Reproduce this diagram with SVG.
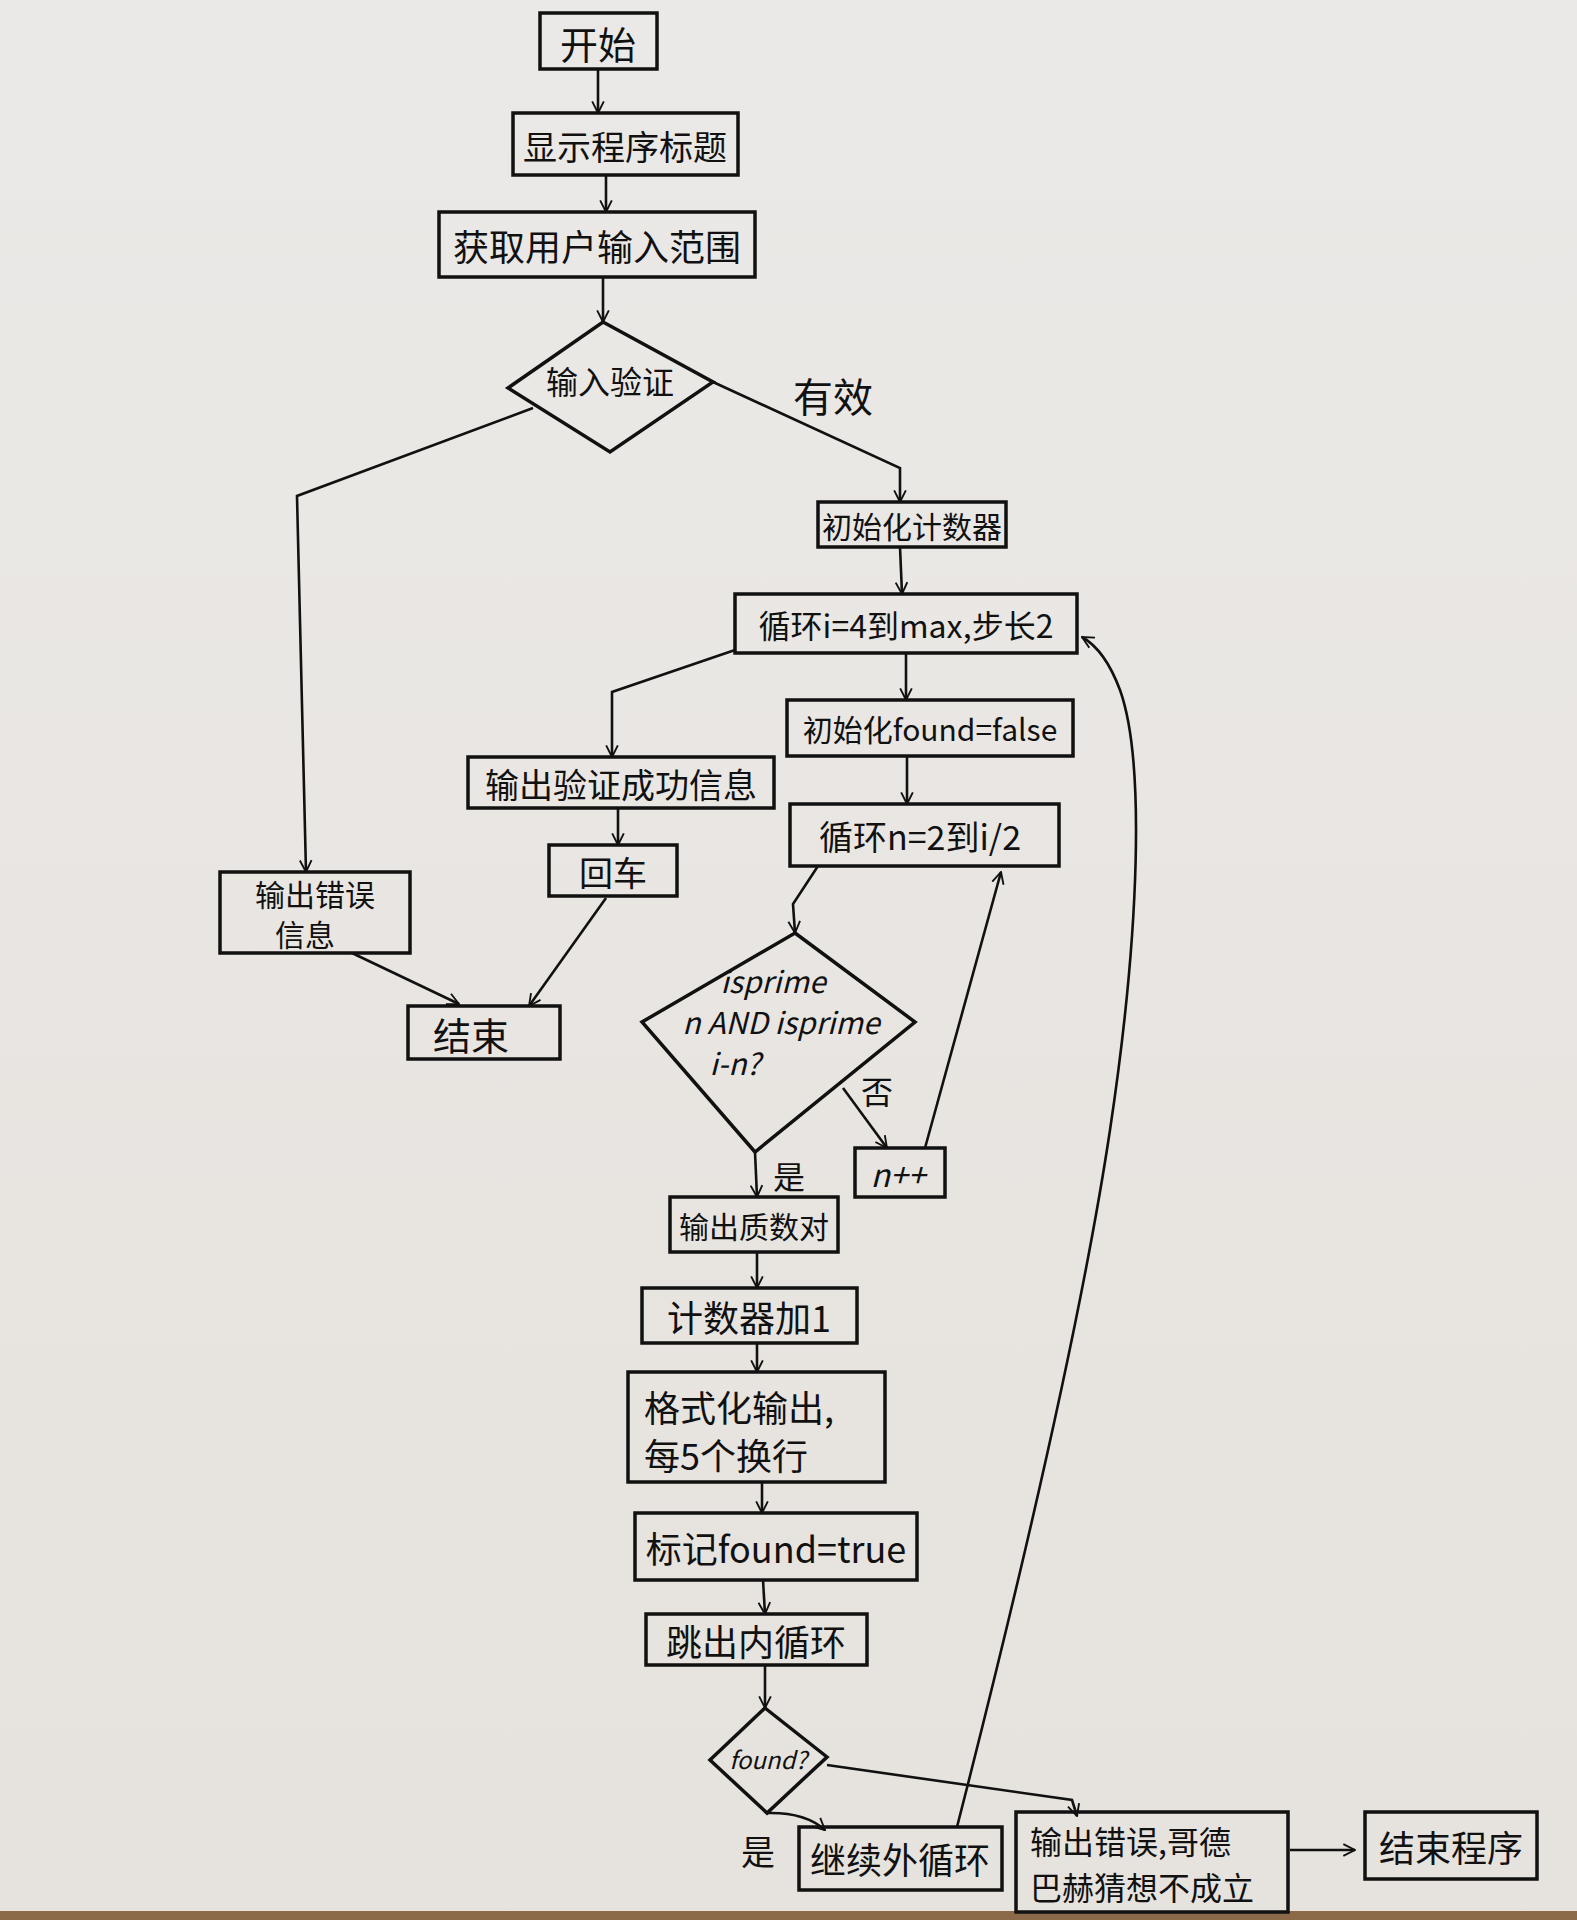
<svg xmlns="http://www.w3.org/2000/svg" width="1577" height="1920" viewBox="0 0 1577 1920">
<defs>
<marker id="ah" viewBox="0 0 12 12" refX="11" refY="6" markerWidth="14" markerHeight="14" markerUnits="userSpaceOnUse" orient="auto">
<path d="M1,1 L11,6 L1,11" fill="none" stroke="#111" stroke-width="1.6"/>
</marker>
<linearGradient id="paper" x1="0" y1="0" x2="0" y2="1">
<stop offset="0" stop-color="#ebe9e7"/>
<stop offset="1" stop-color="#e6e2dd"/>
</linearGradient>
</defs>
<style>
.box{fill:none;stroke:#111;stroke-width:3.5}
.dia{fill:none;stroke:#111;stroke-width:3.5;stroke-linejoin:miter}
.con{fill:none;stroke:#111;stroke-width:2.6;marker-end:url(#ah)}
.t{font-family:"Noto Sans CJK SC","Liberation Sans",sans-serif;fill:#111;text-anchor:middle;dominant-baseline:central}
.l{text-anchor:start}
</style>
<rect x="0" y="0" width="1577" height="1920" fill="url(#paper)"/>
<rect x="0" y="1911" width="1577" height="9" fill="#8a6a48"/>

<g id="connectors">
<path class="con" d="M598,69 L598,113"/>
<path class="con" d="M606,175 L606,212"/>
<path class="con" d="M603,277 L603,322"/>
<path class="con" d="M713,382 L900,468 L900,502"/>
<path class="con" d="M533,408 L297,496 L306,872"/>
<path class="con" d="M900,547 L902,594"/>
<path class="con" d="M906,653 L906,700"/>
<path class="con" d="M907,756 L907,804"/>
<path class="con" d="M818,866 L793,904 L795,933"/>
<path class="con" d="M755,1152 L757,1197"/>
<path class="con" d="M843,1088 L887,1148"/>
<path class="con" d="M925,1148 L1001,872"/>
<path class="con" d="M757,1252 L757,1288"/>
<path class="con" d="M757,1343 L757,1372"/>
<path class="con" d="M762,1482 L762,1513"/>
<path class="con" d="M763,1580 L765,1614"/>
<path class="con" d="M765,1665 L765,1708"/>
<path class="con" d="M767,1813 Q805,1812 825,1830"/>
<path class="con" d="M827,1765 L1072,1800 L1077,1816"/>
<path class="con" d="M1290,1850 L1355,1850"/>
<path class="con" d="M957,1827 C1010,1620 1080,1330 1110,1130 C1140,930 1145,760 1120,690 Q1105,650 1082,637"/>
<path class="con" d="M735,650 L612,692 L612,757"/>
<path class="con" d="M618,808 L618,845"/>
<path class="con" d="M352,953 L459,1004"/>
<path class="con" d="M606,898 L529,1006"/>
</g>

<g id="start"><rect class="box" x="540" y="13" width="117" height="56"/><text class="t" x="598" y="42" font-size="38">开始</text></g>
<g id="title"><rect class="box" x="513" y="113" width="225" height="62"/><text class="t" x="625" y="145" font-size="34">显示程序标题</text></g>
<g id="getinput"><rect class="box" x="439" y="212" width="316" height="65"/><text class="t" x="597" y="245" font-size="36">获取用户输入范围</text></g>
<g id="validate"><polygon class="dia" points="603,322 713,382 610,452 508,388"/><text class="t" x="610" y="380" font-size="32">输入验证</text></g>
<g id="label-valid"><text class="t" x="833" y="395" font-size="40">有效</text></g>
<g id="initcounter"><rect class="box" x="818" y="502" width="188" height="45"/><text class="t" x="912" y="525" font-size="30">初始化计数器</text></g>
<g id="outerloop"><rect class="box" x="735" y="594" width="342" height="59"/><text class="t" x="906" y="624" font-size="32">循环i=4到max,步长2</text></g>
<g id="initfound"><rect class="box" x="787" y="700" width="286" height="56"/><text class="t" x="930" y="728" font-size="30">初始化found=false</text></g>
<g id="innerloop"><rect class="box" x="790" y="804" width="269" height="62"/><text class="t" x="920" y="835" font-size="34">循环n=2到i/2</text></g>
<g id="isprime"><polygon class="dia" points="795,933 915,1022 755,1152 642,1022"/>
<text class="t" x="773" y="980" font-size="30" font-style="italic">isprime</text>
<text class="t" x="781" y="1021" font-size="30" font-style="italic">n AND isprime</text>
<text class="t" x="735" y="1062" font-size="30" font-style="italic">i-n?</text></g>
<g id="label-no"><text class="t" x="877" y="1090" font-size="32">否</text></g>
<g id="nplus"><rect class="box" x="855" y="1148" width="90" height="49"/><text class="t" x="898" y="1173" font-size="32" font-style="italic">n++</text></g>
<g id="label-yes1"><text class="t" x="789" y="1175" font-size="32">是</text></g>
<g id="outpair"><rect class="box" x="670" y="1197" width="168" height="55"/><text class="t" x="754" y="1225" font-size="30">输出质数对</text></g>
<g id="countinc"><rect class="box" x="642" y="1288" width="215" height="55"/><text class="t" x="749" y="1316" font-size="36">计数器加1</text></g>
<g id="format"><rect class="box" x="628" y="1372" width="257" height="110"/>
<text class="t l" x="644" y="1406" font-size="36">格式化输出,</text>
<text class="t l" x="644" y="1454" font-size="36">每5个换行</text></g>
<g id="markfound"><rect class="box" x="635" y="1513" width="282" height="67"/><text class="t" x="776" y="1547" font-size="36">标记found=true</text></g>
<g id="breakinner"><rect class="box" x="646" y="1614" width="221" height="51"/><text class="t" x="756" y="1640" font-size="36">跳出内循环</text></g>
<g id="foundq"><polygon class="dia" points="765,1708 827,1757 767,1813 710,1760"/><text class="t" x="768" y="1758" font-size="24" font-style="italic">found?</text></g>
<g id="label-yes2"><text class="t" x="758" y="1850" font-size="34">是</text></g>
<g id="continue"><rect class="box" x="799" y="1827" width="203" height="63"/><text class="t" x="900" y="1858" font-size="36">继续外循环</text></g>
<g id="goldbachfail"><rect class="box" x="1016" y="1812" width="272" height="100"/>
<text class="t l" x="1030" y="1840" font-size="32">输出错误,哥德</text>
<text class="t l" x="1030" y="1886" font-size="32">巴赫猜想不成立</text></g>
<g id="endprog"><rect class="box" x="1365" y="1812" width="172" height="67"/><text class="t" x="1451" y="1846" font-size="36">结束程序</text></g>
<g id="validok"><rect class="box" x="468" y="757" width="306" height="51"/><text class="t" x="621" y="783" font-size="34">输出验证成功信息</text></g>
<g id="enter"><rect class="box" x="549" y="845" width="128" height="51"/><text class="t" x="613" y="871" font-size="34">回车</text></g>
<g id="errinfo"><rect class="box" x="220" y="872" width="190" height="81"/>
<text class="t" x="315" y="893" font-size="30">输出错误</text>
<text class="t" x="305" y="933" font-size="30">信息</text></g>
<g id="end"><rect class="box" x="408" y="1006" width="152" height="53"/><text class="t" x="471" y="1033" font-size="38">结束</text></g>
</svg>
